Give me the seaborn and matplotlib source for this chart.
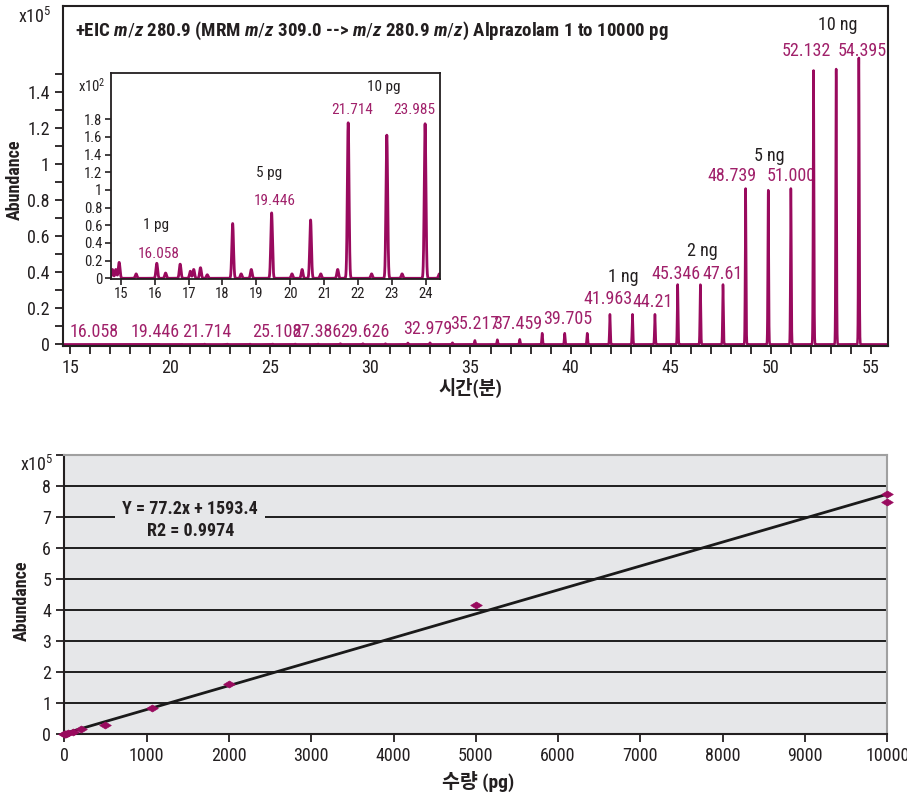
import numpy as np
import pandas as pd
import matplotlib
matplotlib.use("Agg")
import matplotlib.pyplot as plt
import matplotlib.font_manager as fm
from matplotlib.path import Path
from matplotlib.ticker import FuncFormatter, FixedLocator
import seaborn as sns

# ---------------- data ----------------
# main chromatogram peaks (retention time, min) and heights (x10^5)
peak_times = [16.058, 17.19, 18.32, 19.446, 20.58, 21.714, 22.85, 23.985,
              25.108, 26.24, 27.386, 28.50, 29.626, 30.75, 31.87, 32.979,
              34.10, 35.217, 36.34, 37.459, 38.58, 39.705, 40.83, 41.963,
              43.09, 44.21, 45.346, 46.48, 47.61, 48.739, 49.87, 51.000,
              52.132, 53.26, 54.395]
peak_heights = [0.0002, 0.0003, 0.0006, 0.0007, 0.0007, 0.0017, 0.0016, 0.0017,
                0.002, 0.002, 0.002, 0.004, 0.004, 0.004, 0.008, 0.009,
                0.009, 0.022, 0.026, 0.028, 0.062, 0.062, 0.062, 0.167,
                0.167, 0.167, 0.333, 0.333, 0.333, 0.867, 0.856, 0.867,
                1.52, 1.53, 1.59]

# inset chromatogram (x10^2)
inset_times = [14.75, 14.85, 14.95, 15.45, 16.06, 16.32, 16.75, 17.05, 17.15,
               17.35, 17.55, 18.30, 18.55, 18.85, 19.45, 20.05, 20.35, 20.60,
               20.90, 21.40, 21.71, 22.40, 22.85, 23.30, 23.98, 24.40]
inset_heights = [0.10, 0.10, 0.18, 0.05, 0.17, 0.06, 0.16, 0.08, 0.10,
                 0.12, 0.04, 0.62, 0.05, 0.10, 0.74, 0.05, 0.10, 0.66,
                 0.05, 0.10, 1.76, 0.05, 1.62, 0.05, 1.75, 0.05]

main_peak_labels = ["16.058", "19.446", "21.714", "25.108", "27.386", "29.626",
                    "32.979", "35.217", "37.459", "39.705", "41.963", "44.21",
                    "45.346", "47.61", "48.739", "51.000", "52.132", "54.395"]
main_group_labels = ["1 ng", "2 ng", "5 ng", "10 ng"]
inset_peak_labels = ["16.058", "19.446", "21.714", "23.985"]
inset_group_labels = ["1 pg", "5 pg", "10 pg"]

# calibration
conc_pg = [1, 5, 10, 20, 50, 100, 200, 500, 1070, 2000, 5000, 10000, 10000]
abund_e5 = [0.0, 0.0, 0.01, 0.01, 0.03, 0.07, 0.16, 0.29, 0.84, 1.62, 4.17, 7.74, 7.47]
fit_slope = 77.2
fit_intercept = 1593.4
fit_r2 = 0.9974

# ---------------- style ----------------
sns.set_style("ticks")
names = {f.name for f in fm.fontManager.ttflist}
cond = next((n for n in ["Liberation Sans Narrow", "Roboto Condensed",
                         "Open Sans Condensed", "Liberation Sans"] if n in names),
            "DejaVu Sans")
plt.rcParams["font.family"] = [cond, "Noto Sans CJK KR", "DejaVu Sans"]
plt.rcParams["mathtext.fontset"] = "custom"
plt.rcParams["mathtext.rm"] = cond
plt.rcParams["mathtext.it"] = cond + ":italic:bold"
plt.rcParams["mathtext.bf"] = cond + ":bold"
plt.rcParams["axes.linewidth"] = 1.5

PEAK = "#990a5e"
LAB = "#a0206a"
DARK = "#231f20"

fig = plt.figure(figsize=(9.07, 8.01), dpi=100)

def fmt(v, pos):
    if abs(v) < 1e-9:
        return "0"
    if abs(v - round(v)) < 1e-9:
        return "%d" % round(v)
    return "%.1f" % v

# ---------------- main chromatogram ----------------
ax1 = fig.add_axes([63 / 907, 1 - 346 / 801, 825 / 907, 340 / 801])
t = np.linspace(14.6, 55.9, 9000)
trace = np.zeros_like(t)
for pt, ph in zip(peak_times, peak_heights):
    trace += ph * np.exp(-0.5 * ((t - pt) / 0.022) ** 2)
df1 = pd.DataFrame({"t": t, "y": trace})
sns.lineplot(data=df1, x="t", y="y", ax=ax1, color=PEAK, lw=1.8,
             estimator=None, sort=False)
ax1.set_xlim(14.65, 55.85)
ax1.set_ylim(-0.009, 1.878)
ax1.set_xlabel("")
ax1.set_ylabel("")
ax1.xaxis.set_major_locator(FixedLocator(np.arange(15, 56, 5)))
ax1.xaxis.set_minor_locator(FixedLocator(np.arange(15, 56, 1)))
ax1.yaxis.set_major_locator(FixedLocator(np.round(np.arange(0, 1.41, 0.2), 2)))
ax1.yaxis.set_minor_locator(FixedLocator(np.round(np.arange(0, 1.51, 0.1), 2)))
ax1.yaxis.set_major_formatter(FuncFormatter(fmt))
ax1.tick_params(which="both", direction="out", length=6, width=1.3,
                labelsize=13, colors=DARK)
for s in ax1.spines.values():
    s.set_color(DARK)

main_label_pos = [(16.21, 0.068), (19.24, 0.068), (21.82, 0.068), (25.32, 0.068),
                  (27.32, 0.068), (29.73, 0.068), (32.86, 0.083), (35.22, 0.115),
                  (37.38, 0.115), (39.85, 0.143), (41.87, 0.254), (44.12, 0.235),
                  (45.24, 0.393), (47.59, 0.393), (48.07, 0.935), (51.03, 0.935),
                  (51.78, 1.63), (54.58, 1.63)]
for txt, (x, y) in zip(main_peak_labels, main_label_pos):
    ax1.text(x, y, txt, color=LAB, fontsize=13, ha="center", va="center", zorder=1.5)
main_group_pos = [(42.62, 0.374), (46.57, 0.518), (49.91, 1.044), (53.36, 1.77)]
for txt, (x, y) in zip(main_group_labels, main_group_pos):
    ax1.text(x, y, txt, color=DARK, fontsize=13, ha="center", va="center")

ax1.text(0.0145, 0.926,
         r"+EIC $m/z$ 280.9 (MRM $m/z$ 309.0 --> $m/z$ 280.9 $m/z$) Alprazolam 1 to 10000 pg",
         transform=ax1.transAxes, fontsize=13.6, fontweight="bold", color=DARK,
         ha="left", va="center")

fig.text(35 / 907, 1 - 17 / 801, r"x10$^5$", fontsize=13, color=DARK,
         ha="center", va="center")
fig.text(15 / 907, 1 - 180 / 801, "Abundance", fontsize=13, fontweight="bold",
         rotation=90, ha="center", va="center", color=DARK)
fig.text(470 / 907, 1 - 388 / 801, "시간(분)", fontsize=13.5, fontweight="bold",
         ha="center", va="center", color=DARK)

# ---------------- inset ----------------
axi = fig.add_axes([110.7 / 907, 1 - 279 / 801, 329.3 / 907, 205.7 / 801])
ti = np.linspace(14.6, 24.5, 5000)
tri = np.zeros_like(ti)
for pt, ph in zip(inset_times, inset_heights):
    tri += ph * np.exp(-0.5 * ((ti - pt) / 0.025) ** 2)
dfi = pd.DataFrame({"t": ti, "y": tri})
sns.lineplot(data=dfi, x="t", y="y", ax=axi, color=PEAK, lw=2.0,
             estimator=None, sort=False)
axi.set_facecolor("white")
axi.set_xlim(14.70, 24.42)
axi.set_ylim(-0.008, 2.32)
axi.set_xlabel("")
axi.set_ylabel("")
axi.set_xticks(np.arange(15, 25, 1))
axi.set_yticks(np.round(np.arange(0, 1.81, 0.2), 2))
axi.yaxis.set_major_formatter(FuncFormatter(fmt))
axi.tick_params(direction="out", length=4, width=1.2, labelsize=10.5,
                colors=DARK, pad=2)
for s in axi.spines.values():
    s.set_color(DARK)
    s.set_linewidth(1.3)

inset_label_pos = [(16.13, 0.275), (19.55, 0.87), (21.83, 1.91), (23.66, 1.91)]
for txt, (x, y) in zip(inset_peak_labels, inset_label_pos):
    axi.text(x, y, txt, color=LAB, fontsize=11, ha="center", va="center")
inset_group_pos = [(16.05, 0.60), (19.38, 1.19), (22.75, 2.17)]
for txt, (x, y) in zip(inset_group_labels, inset_group_pos):
    axi.text(x, y, txt, color=DARK, fontsize=11, ha="center", va="center")
fig.text(91.7 / 907, 1 - 86 / 801, r"x10$^2$", fontsize=10.5, color=DARK,
         ha="center", va="center")

# ---------------- calibration ----------------
ax2 = fig.add_axes([64.3 / 907, 1 - 734 / 801, 823 / 907, 279 / 801])
ax2.set_facecolor("#e6e7e9")
ax2.set_axisbelow(True)
ax2.yaxis.grid(True, color="#1e1e1e", lw=1.4)
ax2.xaxis.grid(False)

fit_x = np.array([0, 10000])
fit_y = (fit_slope * fit_x + fit_intercept) / 1e5
sns.lineplot(x=fit_x, y=fit_y, ax=ax2, color="#1a1a1a", lw=2.0)

diamond = Path([(-1, 0), (0, 0.6), (1, 0), (0, -0.6), (-1, 0)],
               [Path.MOVETO, Path.LINETO, Path.LINETO, Path.LINETO, Path.CLOSEPOLY])
sns.scatterplot(x=conc_pg, y=abund_e5, ax=ax2, marker=diamond, s=70,
                color=PEAK, edgecolor=PEAK, linewidth=0.5, zorder=5, clip_on=False)

ax2.set_xlim(0, 10000)
ax2.set_ylim(0, 9)
ax2.set_xticks(np.arange(0, 10001, 1000))
ax2.set_yticks(np.arange(0, 10, 1))
ax2.set_yticklabels([str(i) for i in range(9)] + [""])
ax2.set_xlabel("")
ax2.set_ylabel("")
ax2.tick_params(direction="out", length=6, width=1.3, labelsize=13, colors=DARK)
ax2.spines["left"].set_color(DARK)
ax2.spines["bottom"].set_color(DARK)
ax2.spines["top"].set_color("#a0a0a0")
ax2.spines["right"].set_color("#a0a0a0")
ax2.spines["top"].set_linewidth(1.5)
ax2.spines["right"].set_linewidth(1.5)

ax2.text(1530, 7.27, "Y = %.1fx + %.1f" % (fit_slope, fit_intercept),
         ha="center", va="center", fontsize=13, fontweight="bold", color=DARK,
         bbox=dict(facecolor="#e6e7e9", edgecolor="none", pad=5), zorder=4)
ax2.text(1530, 6.54, "R2 = %.4f" % fit_r2, ha="center", va="center",
         fontsize=13, fontweight="bold", color=DARK, zorder=4)

fig.text(37 / 907, 1 - 465 / 801, r"x10$^5$", fontsize=13, color=DARK,
         ha="center", va="center")
fig.text(22 / 907, 1 - 601 / 801, "Abundance", fontsize=13, fontweight="bold",
         rotation=90, ha="center", va="center", color=DARK)
fig.text(478 / 907, 1 - 781 / 801, "수량 (pg)", fontsize=14, fontweight="bold",
         ha="center", va="center", color=DARK)

fig.savefig("out.png", dpi=100)
